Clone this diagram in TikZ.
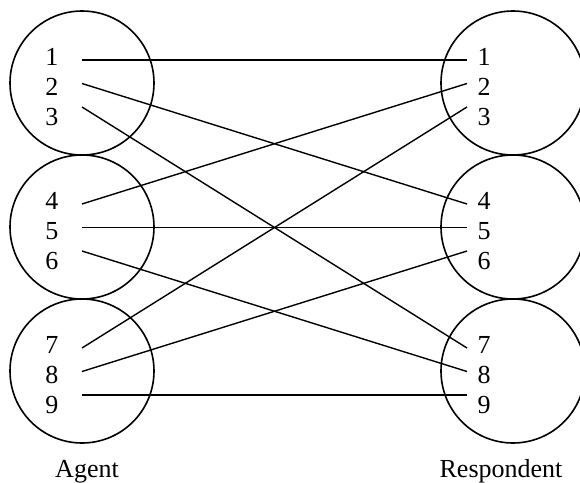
\documentclass[tikz,border=0pt]{standalone}
\usepackage{fontspec}
\setmainfont{Liberation Serif}
\begin{document}
\begin{tikzpicture}[x=0.5pt, y=-0.5pt,
        every node/.style = {font=\fontsize{13}{15}\selectfont},
        group/.style = {shape=circle, draw, line width=0.8pt,
                        minimum size=72pt, inner sep=0pt},
        link/.style = {line width=0.7pt}]
    \useasboundingbox (0,0) rectangle (580,483);
    \foreach \g/\y in {0/83, 1/227, 2/371} {
        \node[group] (agent\g) at (82,\y) {};
        \node[group] (resp\g) at (513,\y) {};
    }
    \foreach \n in {1,...,9} {
        \pgfmathsetmacro\base{83+144*int((\n-1)/3)}
        \pgfmathsetmacro\dy{\base-18+30*mod(\n-1,3)}
        \pgfmathsetmacro\ly{\base-23+23.5*mod(\n-1,3)}
        \node[anchor=base] (a\n) at (52,\dy) {\n};
        \node[anchor=base] (r\n) at (484,\dy) {\n};
        \coordinate (ap\n) at (82,\ly);
        \coordinate (rp\n) at (467,\ly);
    }
    \foreach \i/\j in {1/1, 2/4, 3/7, 4/2, 5/5, 6/8, 7/3, 8/6, 9/9}
        \draw[link] (ap\i) -- (rp\j);
    \node[anchor=base] (agent) at (87,477) {Agent};
    \node[anchor=base] (respondent) at (501,477) {Respondent};
\end{tikzpicture}
\end{document}
